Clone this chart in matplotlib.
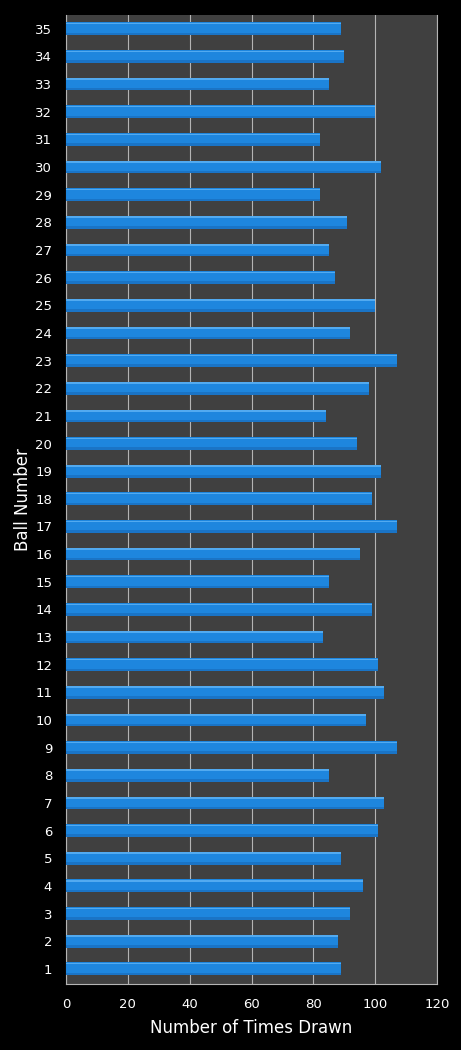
import numpy as np
import matplotlib.pyplot as plt

# ball numbers and how many times each was drawn
balls = list(range(1, 36))
counts = [89, 88, 92, 96, 89, 101, 103, 85, 107, 97,
          103, 101, 83, 99, 85, 95, 107, 99, 102, 94,
          84, 98, 107, 92, 100, 87, 85, 91, 82, 102,
          82, 100, 85, 90, 89]
xticks = [0, 20, 40, 60, 80, 100, 120]

fig = plt.figure(figsize=(4.61, 10.5), dpi=100, facecolor='black')
ax = fig.add_axes([66 / 461, 1 - 984 / 1050, (437 - 66) / 461, (984 - 15) / 1050])
ax.set_facecolor('#404040')

y = np.array(balls)
h = 0.46
# base bar, then a slightly darker lower band and a light top edge for the bevelled look
ax.barh(y, counts, height=h, color='#1e86de', zorder=3)
ax.barh(y - h * 0.40, counts, height=h * 0.20, color='#1a74c6', zorder=4)
ax.barh(y + h * 0.40, counts, height=h * 0.12, color='#52aaf0', zorder=5)

ax.set_xlim(0, 120)
ax.set_ylim(0.45, 35.5)
ax.set_xticks(xticks)
ax.set_yticks(balls)
ax.set_yticklabels([str(b) for b in balls])
ax.grid(axis='x', color='#b4b4b4', linewidth=0.8, zorder=1)
ax.set_axisbelow(True)

ax.spines['top'].set_visible(False)
ax.spines['right'].set_color('#b4b4b4')
ax.spines['left'].set_color('#b4b4b4')
ax.spines['bottom'].set_color('#b4b4b4')
ax.tick_params(axis='both', length=0, colors='white', labelsize=9.5)
ax.tick_params(axis='x', pad=10)
ax.tick_params(axis='y', pad=10)

ax.set_xlabel('Number of Times Drawn', color='white', fontsize=12, labelpad=6)
ax.set_ylabel('Ball Number', color='white', fontsize=12)
ax.yaxis.set_label_coords(-0.092, 0.5)

fig.savefig('out.png', dpi=100, facecolor='black')
